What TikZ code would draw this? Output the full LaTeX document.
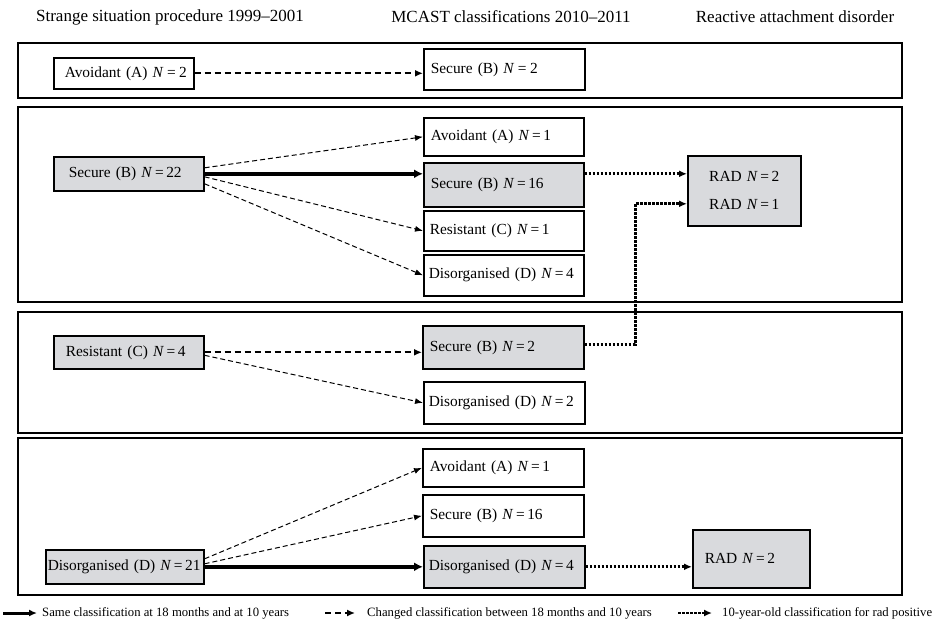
\documentclass[tikz,border=0pt]{standalone}
\usepackage{fontspec}
\setmainfont{Liberation Serif}
\usetikzlibrary{arrows.meta}

\definecolor{boxgray}{RGB}{217,218,221}
\newcommand{\nis}[1]{\textit{N}\,=\,#1}
\newcommand{\boxfont}{\fontsize{15.4}{18}\selectfont}
\newcommand{\headfont}{\fontsize{17}{20}\selectfont}
\newcommand{\legendfont}{\fontsize{12.7}{15}\selectfont}

\tikzset{
  panel/.style={draw, line width=2pt},
  classbox/.style n args={3}{draw, line width=1.6pt, anchor=north west, align=left,
    font=\boxfont, inner ysep=0pt, inner xsep=#3pt, text width={#1pt-2*#3pt}, minimum height=#2pt},
  graybox/.style={fill=boxgray},
  heading/.style={font=\headfont, inner sep=0pt},
  legendtext/.style={font=\legendfont, inner sep=0pt, anchor=west},
  samearrow/.style={line width=4pt, -{Latex[length=9pt,width=9pt]}},
  changearrow/.style={line width=1pt, dash pattern=on 5pt off 3pt, -{Latex[length=8pt,width=6pt]}},
  changearrowbold/.style={line width=2pt, dash pattern=on 6pt off 4pt, -{Latex[length=8pt,width=7pt]}},
  radarrow/.style={line width=3pt, dash pattern=on 2.5pt off 1.5pt, -{Latex[length=8pt,width=7pt]}},
}

\begin{document}
\begin{tikzpicture}[x=1pt,y=-1pt]
  \useasboundingbox (0,0) rectangle (937,624);

  % column headings
  \node[heading] (hdSSP)   at (170,17) {Strange situation procedure 1999--2001};
  \node[heading] (hdMCAST) at (511,17) {MCAST classifications 2010--2011};
  \node[heading] (hdRAD)   at (795,17) {Reactive attachment disorder};

  % panels
  \draw[panel] (18,43) rectangle (902,98);
  \draw[panel] (18,107) rectangle (902,302);
  \draw[panel] (18,312) rectangle (902,433);
  \draw[panel] (18,438) rectangle (902,595);

  % avoidant at 18 months
  \node[classbox={140}{31}{11}] (avA2) at (53,57) {\mbox{Avoidant (A) \textit{N}\:=\:2}};
  \node[classbox={161}{41}{7}] (secB2top) at (423,48) {\mbox{Secure (B) \textit{N}\:=\:2}};
  \draw[changearrowbold] (avA2.east) -- (avA2.east -| secB2top.west);

  % secure at 18 months
  \node[classbox={150}{34}{15}, graybox] (secB22) at (53,156) {\mbox{Secure (B) \nis{22}}};
  \node[classbox={160}{38}{7}] (avA1) at (423,117) {\mbox{Avoidant (A) \nis{1}}};
  \node[classbox={160}{44}{7}, graybox] (secB16) at (423,162) {\mbox{Secure (B) \nis{16}}};
  \node[classbox={160}{40}{6}] (resC1) at (423,210) {\mbox{Resistant (C) \nis{1}}};
  \node[classbox={160}{41}{5}] (disD4top) at (423,254) {\mbox{Disorganised (D) \nis{4}}};
  \node[classbox={113}{70}{20}, graybox, align=center] (radTop) at (687,155)
    {\mbox{RAD \nis{2}}\\[10pt]\mbox{RAD \nis{1}}};

  \draw[changearrow] ([yshift=6pt]secB22.east) -- (avA1.west);
  \draw[samearrow] (secB22.east) -- (secB22.east -| secB16.west);
  \draw[changearrow] ([yshift=-3pt]secB22.east) -- (resC1.west);
  \draw[changearrow] ([yshift=-10pt]secB22.east) -- (disD4top.west);
  \draw[radarrow] (secB16.east |- secB22.east) -- (radTop.west |- secB22.east);

  % resistant at 18 months
  \node[classbox={150}{33}{12}, graybox] (resC4) at (53,335) {\mbox{Resistant (C) \nis{4}}};
  \node[classbox={161}{43}{7}, graybox] (secB2) at (422,325) {\mbox{Secure (B) \nis{2}}};
  \node[classbox={161}{42}{5}] (disD2) at (423,381) {\mbox{Disorganised (D) \nis{2}}};

  \draw[changearrowbold] (resC4.east) -- (resC4.east -| secB2.west);
  \draw[changearrow] ([yshift=-3pt]resC4.east) -- (disD2.west);
  \draw[radarrow] ([yshift=3pt]secB2.east) -| ([xshift=-52pt,yshift=-13pt]radTop.west)
    -- ([yshift=-13pt]radTop.west);

  % disorganised at 18 months
  \node[classbox={158}{34}{2}, graybox] (disD21) at (45,549) {\mbox{Disorganised (D) \nis{21}}};
  \node[classbox={161}{38}{7}] (avA1low) at (422,448) {\mbox{Avoidant (A) \nis{1}}};
  \node[classbox={161}{42}{7}] (secB16low) at (422,494) {\mbox{Secure (B) \nis{16}}};
  \node[classbox={161}{42}{5}, graybox] (disD4) at (423,545) {\mbox{Disorganised (D) \nis{4}}};
  \node[classbox={117}{58}{12}, graybox] (radLow) at (692,529) {\mbox{RAD \nis{2}}};

  \draw[changearrow] ([yshift=8pt]disD21.east) -- (avA1low.west);
  \draw[changearrow] ([yshift=3pt]disD21.east) -- (secB16low.west);
  \draw[samearrow] (disD21.east) -- (disD21.east -| disD4.west);
  \draw[radarrow] (disD4.east) -- (disD4.east -| radLow.west);

  % legend
  \node[legendtext] (lgSame) at (42,613) {Same classification at 18 months and at 10 years};
  \node[legendtext] (lgChanged) at (367,613) {Changed classification between 18 months and 10 years};
  \node[legendtext] (lgRad) at (722,613) {10-year-old classification for rad positive};
  \coordinate (lgSameStart) at (3,613);
  \coordinate (lgChangedStart) at (325,613);
  \coordinate (lgRadStart) at (678,613);
  \draw[samearrow, line width=3pt, -{Latex[length=8pt,width=7pt]}] (lgSameStart) -- ([xshift=-5pt]lgSame.west);
  \draw[changearrowbold, line width=1.5pt] (lgChangedStart) -- ([xshift=-12pt]lgChanged.west);
  \draw[radarrow, line width=2.5pt] (lgRadStart) -- ([xshift=-10pt]lgRad.west);
\end{tikzpicture}
\end{document}
